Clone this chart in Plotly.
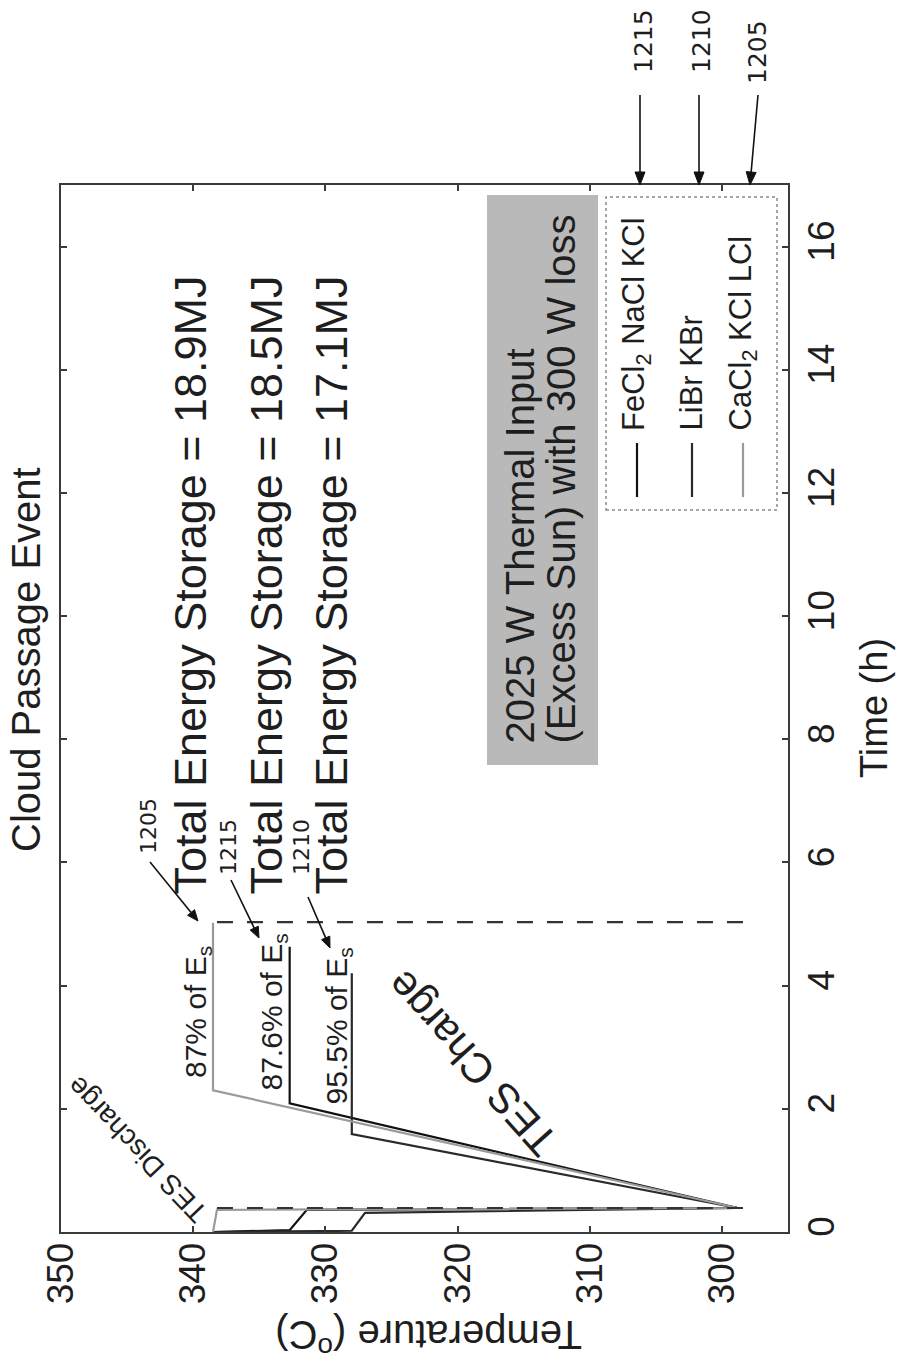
import math
import plotly.graph_objects as go

FONT = "Liberation Sans"
CALLOUT_FONT = "DejaVu Sans"
INK = "#1e1e1e"

# ---------------- data ----------------
legend_labels = ["FeCl<sub>2</sub> NaCl KCl", "LiBr KBr", "CaCl<sub>2</sub> KCl LCl"]
ref_numbers = ["1215", "1210", "1205"]

# FeCl2 NaCl KCl (1215): time (h) and TES temperature (°C)
time_fecl2 = [0.0, 0.03, 0.36, 0.39, 2.09, 4.63]
temp_fecl2 = [338.5, 332.7, 331.4, 298.8, 332.7, 332.7]

# LiBr KBr (1210)
time_libr = [0.0, 0.02, 0.31, 0.39, 1.59, 4.20]
temp_libr = [338.5, 328.0, 327.0, 298.8, 328.0, 328.0]

# CaCl2 KCl LiCl (1205)
time_cacl2 = [0.0, 0.36, 0.39, 2.30, 5.02]
temp_cacl2 = [338.5, 338.2, 298.8, 338.5, 338.5]

# event markers: end of cloud passage, end of charging
marker_times = [0.39, 5.03]
marker_temp_span = [338.2, 297.6]

energy_totals = ["18.9MJ", "18.5MJ", "17.1MJ"]
fraction_labels = ["87%", "87.6%", "95.5%"]

temp_ticks = [300, 310, 320, 330, 340, 350]
time_ticks = [0, 2, 4, 6, 8, 10, 12, 14, 16]

# ---------------- geometry helpers ----------------
W, H = 898, 1366
ML, MR, MT, MB = 61, 110, 185, 134
PW, PH = W - ML - MR, H - MT - MB
T_RANGE = [350, 295]
t_RANGE = [0, 17]


def paper(xp, yp):
    """Canvas pixel position -> paper coordinates."""
    return (xp - ML) / PW, (H - MB - yp) / PH


fig = go.Figure()

series = [
    (time_fecl2, temp_fecl2, "#111111", legend_labels[0]),
    (time_libr, temp_libr, "#2a2a2a", legend_labels[1]),
    (time_cacl2, temp_cacl2, "#9a9a9a", legend_labels[2]),
]
for tt, TT, col, name in series:
    fig.add_trace(go.Scatter(x=TT, y=tt, mode="lines", name=name,
                             line=dict(color=col, width=2.2), showlegend=False))

for mt in marker_times:
    fig.add_trace(go.Scatter(x=marker_temp_span, y=[mt, mt], mode="lines",
                             line=dict(color="#333333", width=2.2, dash="16px,14px"),
                             showlegend=False, hoverinfo="skip"))

shapes = []
annotations = []


def text(xp, yp, s, size, angle=-90, xanchor="center", yanchor="middle",
         family=FONT, color=INK):
    px, py = paper(xp, yp)
    annotations.append(dict(x=px, y=py, xref="paper", yref="paper", text=s,
                            showarrow=False, textangle=angle,
                            xanchor=xanchor, yanchor=yanchor,
                            font=dict(family=family, size=size, color=color)))


def arrow(x0, y0, x1, y1, head=13, half=5):
    """Arrow from canvas point (x0, y0) to (x1, y1): a shaft plus a filled head."""
    L = math.hypot(x1 - x0, y1 - y0)
    dx, dy = (x1 - x0) / L, (y1 - y0) / L
    bx, by = x1 - head * dx, y1 - head * dy
    p0, pb = paper(x0, y0), paper(bx, by)
    shapes.append(dict(type="line", xref="paper", yref="paper",
                       x0=p0[0], y0=p0[1], x1=pb[0], y1=pb[1],
                       line=dict(color="#111111", width=1.6)))
    tip = paper(x1, y1)
    c1 = paper(bx - half * dy, by + half * dx)
    c2 = paper(bx + half * dy, by - half * dx)
    path = "M {} {} L {} {} L {} {} Z".format(tip[0], tip[1], c1[0], c1[1], c2[0], c2[1])
    shapes.append(dict(type="path", xref="paper", yref="paper", path=path,
                       fillcolor="#111111", line=dict(color="#111111", width=1)))


# heat-input box
bx0, by0 = paper(487, 765)
bx1, by1 = paper(598, 195)
shapes.append(dict(type="rect", xref="paper", yref="paper", x0=bx0, y0=by0, x1=bx1, y1=by1,
                   fillcolor="#b9b9b9", line=dict(width=0), layer="below"))
text(519, 746, "2025 W Thermal Input", 40, yanchor="bottom")
text(560, 746, "(Excess Sun) with 300 W loss", 40, yanchor="bottom")

# legend box
lx0, ly0 = paper(606, 510)
lx1, ly1 = paper(777, 197)
shapes.append(dict(type="rect", xref="paper", yref="paper", x0=lx0, y0=ly0, x1=lx1, y1=ly1,
                   fillcolor="white", line=dict(color="#8a8a8a", width=1.5, dash="dot")))
legend_x = [637, 692, 743]
for (tt, TT, col, name), lxp in zip(series, legend_x):
    a = paper(lxp, 497)
    b = paper(lxp, 443)
    shapes.append(dict(type="line", xref="paper", yref="paper", x0=a[0], y0=a[1],
                       x1=b[0], y1=b[1], line=dict(color=col, width=2.2)))
    text(lxp - 1, 433, name, 31, yanchor="bottom")

# reference numerals above the legend
for s, (xp, yp) in zip(ref_numbers, [(643, 41), (701, 41), (757, 52)]):
    text(xp, yp, s, 25, family=CALLOUT_FONT)
arrow(640, 95, 640, 185)
arrow(699, 95, 699, 185)
arrow(758, 95, 750, 185)

# energy storage labels
for s, xp in zip(energy_totals, [190, 266, 331]):
    text(xp, 897, "Total Energy Storage = " + s, 45, yanchor="bottom")

# charge fraction labels
for s, xp, yp in zip(fraction_labels, [197, 273, 338], [1080, 1093, 1107]):
    text(xp, yp, s + " of E<sub>s</sub>", 30, yanchor="bottom")

# callouts inside the plot
for s, (xp, yp) in zip(["1205", "1215", "1210"], [(148, 826), (229, 847), (302, 847)]):
    text(xp, yp, s, 22, family=CALLOUT_FONT)
arrow(150, 862, 198, 921, head=11, half=4.5)
arrow(231, 880, 259, 938, head=11, half=4.5)
arrow(308, 897, 330, 948, head=11, half=4.5)

# phase labels
text(137, 1150, "TES Discharge", 28, angle=-133.5)
text(472, 1064, "TES Charge", 42, angle=-132)

# titles
text(26, 660, "Cloud Passage Event", 40)
text(874, 708, "Time (h)", 38)
text(429, 1338, "Temperature (<sup>o</sup>C)", 40, angle=180)

axis_common = dict(showline=True, linecolor="#3a3a3a", linewidth=1.6, mirror="ticks",
                   ticks="inside", ticklen=6, tickcolor="#3a3a3a", tickwidth=1.5,
                   showgrid=False, zeroline=False, tickangle=-90,
                   tickfont=dict(family=FONT, size=37, color=INK))

fig.update_layout(
    width=W, height=H,
    margin=dict(l=ML, r=MR, t=MT, b=MB),
    paper_bgcolor="white", plot_bgcolor="white",
    xaxis=dict(range=T_RANGE, tickvals=temp_ticks, ticklabelstandoff=-6, **axis_common),
    yaxis=dict(range=t_RANGE, tickvals=time_ticks, side="right", ticklabelstandoff=0,
               **axis_common),
    shapes=shapes,
    annotations=annotations,
    showlegend=False,
)

fig.write_html("out.html")
